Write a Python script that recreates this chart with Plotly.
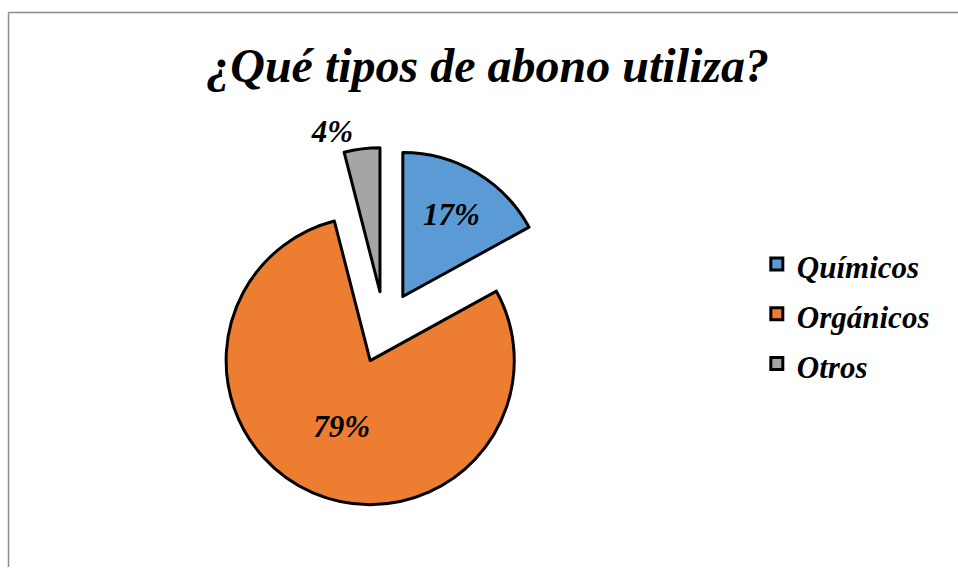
import plotly.graph_objects as go

labels = ["Químicos", "Orgánicos", "Otros"]
values = [17, 79, 4]
colors = ["#5B9BD5", "#ED7D31", "#A5A5A5"]
text_pos = ["inside", "inside", "outside"]

serif = "Liberation Serif, Times New Roman, serif"

fig = go.Figure()
fig.add_trace(go.Pie(
    labels=["<span style='font-size:31px'>%s</span>" % l for l in labels],
    values=values,
    sort=False,
    direction="clockwise",
    rotation=0,
    pull=0.25,
    marker=dict(colors=colors, line=dict(color="black", width=3)),
    textinfo="percent",
    textposition=text_pos,
    insidetextorientation="horizontal",
    textfont=dict(family=serif, size=31, color="black", weight="bold", style="italic"),
    domain=dict(x=[0.2056, 0.5971], y=[0.0512, 0.7244]),
    hoverinfo="label+percent",
))

border = dict(color="#8c8c8c", width=1.5)
fig.update_layout(
    width=958,
    height=581,
    autosize=False,
    margin=dict(l=0, r=0, t=0, b=0),
    paper_bgcolor="white",
    plot_bgcolor="white",
    title=dict(
        text="¿Qué tipos de abono utiliza?",
        x=0.509, xanchor="center",
        y=0.888, yanchor="middle",
        font=dict(family=serif, size=48, color="black", weight="bold", style="italic"),
    ),
    legend=dict(
        x=0.79, xanchor="left",
        y=0.413, yanchor="middle",
        font=dict(family=serif, size=36, color="black", weight="bold", style="italic"),
        bgcolor="rgba(0,0,0,0)",
    ),
    shapes=[
        dict(type="line", xref="paper", yref="paper", x0=0.0089, x1=1, y0=0.9767, y1=0.9767, line=border),
        dict(type="line", xref="paper", yref="paper", x0=0.0089, x1=0.0089, y0=-0.06, y1=0.9767, line=border),
    ],
)

fig.write_html("out.html", config={"displayModeBar": False},
               post_script="document.body.style.margin='0';")
